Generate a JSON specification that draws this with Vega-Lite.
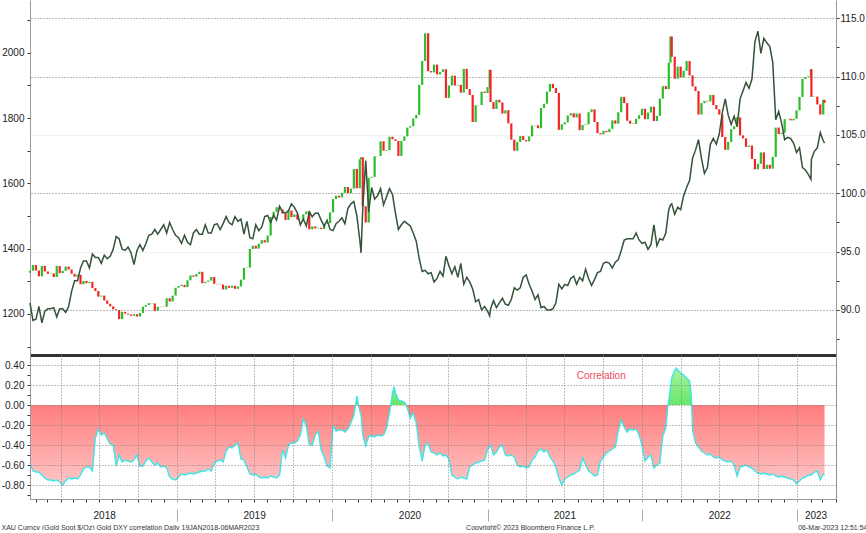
{
  "$schema": "https://vega.github.io/schema/vega-lite/v6.json",
  "background": "white",
  "padding": {"left": 1, "top": 0, "right": 0, "bottom": 0},
  "spacing": 0,
  "config": {
    "view": {"stroke": null},
    "axis": {
      "labelFont": "Liberation Sans",
      "labelFontSize": 10,
      "labelColor": "#222",
      "titleFont": "Liberation Sans",
      "titleFontWeight": "normal",
      "titleColor": "#333",
      "domainColor": "#999",
      "tickColor": "#333"
    }
  },
  "datasets": {
    "px": [
      {"d":"2018-01-19","o":1326,"c":1332,"dxy":90.6},
      {"d":"2018-01-26","o":1332,"c":1350,"dxy":89.1},
      {"d":"2018-02-02","o":1350,"c":1333,"dxy":89.2},
      {"d":"2018-02-09","o":1333,"c":1315,"dxy":90.3},
      {"d":"2018-02-16","o":1315,"c":1347,"dxy":88.9},
      {"d":"2018-02-23","o":1347,"c":1330,"dxy":89.9},
      {"d":"2018-03-02","o":1330,"c":1323,"dxy":90.1},
      {"d":"2018-03-09","o":1323,"c":1324,"dxy":90.1},
      {"d":"2018-03-16","o":1324,"c":1313,"dxy":90.2},
      {"d":"2018-03-23","o":1313,"c":1347,"dxy":89.4},
      {"d":"2018-03-30","o":1347,"c":1325,"dxy":90.1},
      {"d":"2018-04-06","o":1325,"c":1332,"dxy":90.1},
      {"d":"2018-04-13","o":1332,"c":1345,"dxy":89.8},
      {"d":"2018-04-20","o":1345,"c":1336,"dxy":90.3},
      {"d":"2018-04-27","o":1336,"c":1323,"dxy":91.6},
      {"d":"2018-05-04","o":1323,"c":1314,"dxy":92.5},
      {"d":"2018-05-11","o":1314,"c":1320,"dxy":92.5},
      {"d":"2018-05-18","o":1320,"c":1291,"dxy":93.6},
      {"d":"2018-05-25","o":1291,"c":1301,"dxy":94.2},
      {"d":"2018-06-01","o":1301,"c":1294,"dxy":94.2},
      {"d":"2018-06-08","o":1294,"c":1298,"dxy":93.6},
      {"d":"2018-06-15","o":1298,"c":1279,"dxy":94.8},
      {"d":"2018-06-22","o":1279,"c":1270,"dxy":94.5},
      {"d":"2018-06-29","o":1270,"c":1253,"dxy":94.5},
      {"d":"2018-07-06","o":1253,"c":1256,"dxy":94.0},
      {"d":"2018-07-13","o":1256,"c":1241,"dxy":94.7},
      {"d":"2018-07-20","o":1241,"c":1231,"dxy":94.4},
      {"d":"2018-07-27","o":1231,"c":1223,"dxy":94.6},
      {"d":"2018-08-03","o":1223,"c":1214,"dxy":95.2},
      {"d":"2018-08-10","o":1214,"c":1212,"dxy":96.3},
      {"d":"2018-08-17","o":1212,"c":1184,"dxy":96.1},
      {"d":"2018-08-24","o":1184,"c":1206,"dxy":95.2},
      {"d":"2018-08-31","o":1206,"c":1201,"dxy":95.1},
      {"d":"2018-09-07","o":1201,"c":1198,"dxy":95.4},
      {"d":"2018-09-14","o":1198,"c":1194,"dxy":94.9},
      {"d":"2018-09-21","o":1194,"c":1199,"dxy":93.9},
      {"d":"2018-09-28","o":1199,"c":1192,"dxy":95.1},
      {"d":"2018-10-05","o":1192,"c":1203,"dxy":95.6},
      {"d":"2018-10-12","o":1203,"c":1222,"dxy":95.1},
      {"d":"2018-10-19","o":1222,"c":1227,"dxy":95.7},
      {"d":"2018-10-26","o":1227,"c":1233,"dxy":96.4},
      {"d":"2018-11-02","o":1233,"c":1232,"dxy":96.5},
      {"d":"2018-11-09","o":1232,"c":1209,"dxy":96.9},
      {"d":"2018-11-16","o":1209,"c":1222,"dxy":96.5},
      {"d":"2018-11-23","o":1222,"c":1223,"dxy":96.9},
      {"d":"2018-11-30","o":1223,"c":1222,"dxy":97.3},
      {"d":"2018-12-07","o":1222,"c":1248,"dxy":96.6},
      {"d":"2018-12-14","o":1248,"c":1238,"dxy":97.5},
      {"d":"2018-12-21","o":1238,"c":1256,"dxy":96.9},
      {"d":"2018-12-28","o":1256,"c":1280,"dxy":96.4},
      {"d":"2019-01-04","o":1280,"c":1285,"dxy":96.2},
      {"d":"2019-01-11","o":1285,"c":1289,"dxy":95.7},
      {"d":"2019-01-18","o":1289,"c":1282,"dxy":96.4},
      {"d":"2019-01-25","o":1282,"c":1303,"dxy":95.8},
      {"d":"2019-02-01","o":1303,"c":1318,"dxy":95.6},
      {"d":"2019-02-08","o":1318,"c":1314,"dxy":96.6},
      {"d":"2019-02-15","o":1314,"c":1322,"dxy":96.9},
      {"d":"2019-02-22","o":1322,"c":1329,"dxy":96.5},
      {"d":"2019-03-01","o":1329,"c":1294,"dxy":96.5},
      {"d":"2019-03-08","o":1294,"c":1298,"dxy":97.3},
      {"d":"2019-03-15","o":1298,"c":1302,"dxy":96.6},
      {"d":"2019-03-22","o":1302,"c":1313,"dxy":96.6},
      {"d":"2019-03-29","o":1313,"c":1292,"dxy":97.3},
      {"d":"2019-04-05","o":1292,"c":1291,"dxy":97.4},
      {"d":"2019-04-12","o":1291,"c":1290,"dxy":96.9},
      {"d":"2019-04-19","o":1290,"c":1275,"dxy":97.4},
      {"d":"2019-04-26","o":1275,"c":1286,"dxy":98.0},
      {"d":"2019-05-03","o":1286,"c":1280,"dxy":97.5},
      {"d":"2019-05-10","o":1280,"c":1286,"dxy":97.3},
      {"d":"2019-05-17","o":1286,"c":1277,"dxy":98.0},
      {"d":"2019-05-24","o":1277,"c":1284,"dxy":97.6},
      {"d":"2019-05-31","o":1284,"c":1305,"dxy":97.8},
      {"d":"2019-06-07","o":1305,"c":1341,"dxy":96.5},
      {"d":"2019-06-14","o":1341,"c":1342,"dxy":97.6},
      {"d":"2019-06-21","o":1342,"c":1399,"dxy":96.2},
      {"d":"2019-06-28","o":1399,"c":1409,"dxy":96.1},
      {"d":"2019-07-05","o":1409,"c":1400,"dxy":97.3},
      {"d":"2019-07-12","o":1400,"c":1415,"dxy":96.8},
      {"d":"2019-07-19","o":1415,"c":1426,"dxy":97.1},
      {"d":"2019-07-26","o":1426,"c":1419,"dxy":98.0},
      {"d":"2019-08-02","o":1419,"c":1440,"dxy":98.1},
      {"d":"2019-08-09","o":1440,"c":1497,"dxy":97.5},
      {"d":"2019-08-16","o":1497,"c":1513,"dxy":98.1},
      {"d":"2019-08-23","o":1513,"c":1527,"dxy":97.7},
      {"d":"2019-08-30","o":1527,"c":1520,"dxy":98.9},
      {"d":"2019-09-06","o":1520,"c":1507,"dxy":98.4},
      {"d":"2019-09-13","o":1507,"c":1488,"dxy":98.3},
      {"d":"2019-09-20","o":1488,"c":1517,"dxy":98.5},
      {"d":"2019-09-27","o":1517,"c":1497,"dxy":99.1},
      {"d":"2019-10-04","o":1497,"c":1505,"dxy":98.8},
      {"d":"2019-10-11","o":1505,"c":1489,"dxy":98.3},
      {"d":"2019-10-18","o":1489,"c":1490,"dxy":97.3},
      {"d":"2019-10-25","o":1490,"c":1505,"dxy":97.8},
      {"d":"2019-11-01","o":1505,"c":1514,"dxy":97.2},
      {"d":"2019-11-08","o":1514,"c":1459,"dxy":98.4},
      {"d":"2019-11-15","o":1459,"c":1468,"dxy":98.0},
      {"d":"2019-11-22","o":1468,"c":1462,"dxy":98.3},
      {"d":"2019-11-29","o":1462,"c":1464,"dxy":98.3},
      {"d":"2019-12-06","o":1464,"c":1460,"dxy":97.7},
      {"d":"2019-12-13","o":1460,"c":1476,"dxy":97.2},
      {"d":"2019-12-20","o":1476,"c":1478,"dxy":97.7},
      {"d":"2019-12-27","o":1478,"c":1511,"dxy":96.9},
      {"d":"2020-01-03","o":1511,"c":1552,"dxy":96.8},
      {"d":"2020-01-10","o":1552,"c":1562,"dxy":97.4},
      {"d":"2020-01-17","o":1562,"c":1557,"dxy":97.6},
      {"d":"2020-01-24","o":1557,"c":1571,"dxy":97.9},
      {"d":"2020-01-31","o":1571,"c":1589,"dxy":97.4},
      {"d":"2020-02-07","o":1589,"c":1570,"dxy":98.7},
      {"d":"2020-02-14","o":1570,"c":1584,"dxy":99.1},
      {"d":"2020-02-21","o":1584,"c":1644,"dxy":99.3},
      {"d":"2020-02-28","o":1644,"c":1585,"dxy":98.1},
      {"d":"2020-03-06","o":1585,"c":1674,"dxy":96.0},
      {"d":"2020-03-09","o":1674,"c":1680,"dxy":94.9},
      {"d":"2020-03-13","o":1680,"c":1530,"dxy":98.7},
      {"d":"2020-03-20","o":1530,"c":1480,"dxy":102.8},
      {"d":"2020-03-27","o":1480,"c":1617,"dxy":98.4},
      {"d":"2020-04-03","o":1617,"c":1620,"dxy":100.5},
      {"d":"2020-04-10","o":1620,"c":1683,"dxy":99.5},
      {"d":"2020-04-17","o":1683,"c":1684,"dxy":99.8},
      {"d":"2020-04-24","o":1684,"c":1729,"dxy":100.4},
      {"d":"2020-05-01","o":1729,"c":1700,"dxy":99.0},
      {"d":"2020-05-08","o":1700,"c":1702,"dxy":99.7},
      {"d":"2020-05-15","o":1702,"c":1743,"dxy":100.4},
      {"d":"2020-05-22","o":1743,"c":1735,"dxy":99.9},
      {"d":"2020-05-29","o":1735,"c":1730,"dxy":98.3},
      {"d":"2020-06-05","o":1730,"c":1684,"dxy":96.9},
      {"d":"2020-06-12","o":1684,"c":1730,"dxy":97.3},
      {"d":"2020-06-19","o":1730,"c":1744,"dxy":97.6},
      {"d":"2020-06-26","o":1744,"c":1771,"dxy":97.4},
      {"d":"2020-07-03","o":1771,"c":1775,"dxy":97.2},
      {"d":"2020-07-10","o":1775,"c":1799,"dxy":96.6},
      {"d":"2020-07-17","o":1799,"c":1810,"dxy":95.9},
      {"d":"2020-07-24","o":1810,"c":1902,"dxy":94.4},
      {"d":"2020-07-31","o":1902,"c":1975,"dxy":93.3},
      {"d":"2020-08-07","o":1975,"c":2060,"dxy":93.4},
      {"d":"2020-08-14","o":2060,"c":1944,"dxy":93.1},
      {"d":"2020-08-21","o":1944,"c":1940,"dxy":93.2},
      {"d":"2020-08-28","o":1940,"c":1964,"dxy":92.4},
      {"d":"2020-09-04","o":1964,"c":1934,"dxy":92.7},
      {"d":"2020-09-11","o":1934,"c":1941,"dxy":93.3},
      {"d":"2020-09-18","o":1941,"c":1950,"dxy":92.9},
      {"d":"2020-09-25","o":1950,"c":1862,"dxy":94.6},
      {"d":"2020-10-02","o":1862,"c":1900,"dxy":93.8},
      {"d":"2020-10-09","o":1900,"c":1930,"dxy":93.1},
      {"d":"2020-10-16","o":1930,"c":1900,"dxy":93.7},
      {"d":"2020-10-23","o":1900,"c":1902,"dxy":92.8},
      {"d":"2020-10-30","o":1902,"c":1878,"dxy":94.0},
      {"d":"2020-11-06","o":1878,"c":1951,"dxy":92.2},
      {"d":"2020-11-13","o":1951,"c":1889,"dxy":92.8},
      {"d":"2020-11-20","o":1889,"c":1871,"dxy":92.4},
      {"d":"2020-11-27","o":1871,"c":1788,"dxy":91.8},
      {"d":"2020-12-04","o":1788,"c":1839,"dxy":90.7},
      {"d":"2020-12-11","o":1839,"c":1840,"dxy":90.9},
      {"d":"2020-12-18","o":1840,"c":1881,"dxy":90.0},
      {"d":"2020-12-25","o":1881,"c":1877,"dxy":90.3},
      {"d":"2021-01-01","o":1877,"c":1895,"dxy":89.9},
      {"d":"2021-01-06","o":1895,"c":1948,"dxy":89.5},
      {"d":"2021-01-08","o":1948,"c":1849,"dxy":90.1},
      {"d":"2021-01-15","o":1849,"c":1828,"dxy":90.8},
      {"d":"2021-01-22","o":1828,"c":1856,"dxy":90.2},
      {"d":"2021-01-29","o":1856,"c":1848,"dxy":90.6},
      {"d":"2021-02-05","o":1848,"c":1814,"dxy":91.0},
      {"d":"2021-02-12","o":1814,"c":1824,"dxy":90.5},
      {"d":"2021-02-19","o":1824,"c":1784,"dxy":90.4},
      {"d":"2021-02-26","o":1784,"c":1734,"dxy":90.9},
      {"d":"2021-03-05","o":1734,"c":1700,"dxy":91.9},
      {"d":"2021-03-12","o":1700,"c":1727,"dxy":91.7},
      {"d":"2021-03-19","o":1727,"c":1745,"dxy":91.9},
      {"d":"2021-03-26","o":1745,"c":1733,"dxy":92.8},
      {"d":"2021-04-02","o":1733,"c":1729,"dxy":93.0},
      {"d":"2021-04-09","o":1729,"c":1744,"dxy":92.2},
      {"d":"2021-04-16","o":1744,"c":1777,"dxy":91.6},
      {"d":"2021-04-23","o":1777,"c":1778,"dxy":90.9},
      {"d":"2021-04-30","o":1778,"c":1769,"dxy":91.3},
      {"d":"2021-05-07","o":1769,"c":1831,"dxy":90.2},
      {"d":"2021-05-14","o":1831,"c":1844,"dxy":90.3},
      {"d":"2021-05-21","o":1844,"c":1881,"dxy":90.0},
      {"d":"2021-05-28","o":1881,"c":1905,"dxy":90.0},
      {"d":"2021-06-04","o":1905,"c":1892,"dxy":90.1},
      {"d":"2021-06-11","o":1892,"c":1877,"dxy":90.6},
      {"d":"2021-06-18","o":1877,"c":1764,"dxy":92.2},
      {"d":"2021-06-25","o":1764,"c":1781,"dxy":91.8},
      {"d":"2021-07-02","o":1781,"c":1787,"dxy":92.2},
      {"d":"2021-07-09","o":1787,"c":1808,"dxy":92.1},
      {"d":"2021-07-16","o":1808,"c":1815,"dxy":92.7},
      {"d":"2021-07-23","o":1815,"c":1802,"dxy":92.9},
      {"d":"2021-07-30","o":1802,"c":1814,"dxy":92.2},
      {"d":"2021-08-06","o":1814,"c":1763,"dxy":92.8},
      {"d":"2021-08-13","o":1763,"c":1779,"dxy":92.5},
      {"d":"2021-08-20","o":1779,"c":1781,"dxy":93.5},
      {"d":"2021-08-27","o":1781,"c":1818,"dxy":92.7},
      {"d":"2021-09-03","o":1818,"c":1827,"dxy":92.1},
      {"d":"2021-09-10","o":1827,"c":1788,"dxy":92.6},
      {"d":"2021-09-17","o":1788,"c":1754,"dxy":93.2},
      {"d":"2021-09-24","o":1754,"c":1750,"dxy":93.3},
      {"d":"2021-10-01","o":1750,"c":1761,"dxy":94.0},
      {"d":"2021-10-08","o":1761,"c":1757,"dxy":94.1},
      {"d":"2021-10-15","o":1757,"c":1767,"dxy":94.0},
      {"d":"2021-10-22","o":1767,"c":1793,"dxy":93.6},
      {"d":"2021-10-29","o":1793,"c":1783,"dxy":94.1},
      {"d":"2021-11-05","o":1783,"c":1818,"dxy":94.3},
      {"d":"2021-11-12","o":1818,"c":1865,"dxy":95.1},
      {"d":"2021-11-19","o":1865,"c":1846,"dxy":96.0},
      {"d":"2021-11-26","o":1846,"c":1792,"dxy":96.1},
      {"d":"2021-12-03","o":1792,"c":1783,"dxy":96.1},
      {"d":"2021-12-10","o":1783,"c":1782,"dxy":96.1},
      {"d":"2021-12-17","o":1782,"c":1798,"dxy":96.6},
      {"d":"2021-12-24","o":1798,"c":1809,"dxy":96.0},
      {"d":"2021-12-31","o":1809,"c":1829,"dxy":95.7},
      {"d":"2022-01-07","o":1829,"c":1797,"dxy":95.8},
      {"d":"2022-01-14","o":1797,"c":1817,"dxy":95.2},
      {"d":"2022-01-21","o":1817,"c":1835,"dxy":95.6},
      {"d":"2022-01-28","o":1835,"c":1791,"dxy":97.3},
      {"d":"2022-02-04","o":1791,"c":1807,"dxy":95.5},
      {"d":"2022-02-11","o":1807,"c":1860,"dxy":96.1},
      {"d":"2022-02-18","o":1860,"c":1898,"dxy":96.0},
      {"d":"2022-02-25","o":1898,"c":1889,"dxy":96.6},
      {"d":"2022-03-04","o":1889,"c":1970,"dxy":98.6},
      {"d":"2022-03-08","o":1970,"c":2050,"dxy":99.0},
      {"d":"2022-03-11","o":2050,"c":1988,"dxy":99.1},
      {"d":"2022-03-18","o":1988,"c":1921,"dxy":98.2},
      {"d":"2022-03-25","o":1921,"c":1958,"dxy":98.8},
      {"d":"2022-04-01","o":1958,"c":1925,"dxy":98.6},
      {"d":"2022-04-08","o":1925,"c":1945,"dxy":99.8},
      {"d":"2022-04-15","o":1945,"c":1975,"dxy":100.5},
      {"d":"2022-04-22","o":1975,"c":1931,"dxy":101.1},
      {"d":"2022-04-29","o":1931,"c":1897,"dxy":103.0},
      {"d":"2022-05-06","o":1897,"c":1883,"dxy":103.7},
      {"d":"2022-05-13","o":1883,"c":1811,"dxy":104.6},
      {"d":"2022-05-20","o":1811,"c":1846,"dxy":103.0},
      {"d":"2022-05-27","o":1846,"c":1853,"dxy":101.7},
      {"d":"2022-06-03","o":1853,"c":1851,"dxy":102.2},
      {"d":"2022-06-10","o":1851,"c":1871,"dxy":104.2},
      {"d":"2022-06-17","o":1871,"c":1840,"dxy":104.7},
      {"d":"2022-06-24","o":1840,"c":1827,"dxy":104.2},
      {"d":"2022-07-01","o":1827,"c":1811,"dxy":105.1},
      {"d":"2022-07-08","o":1811,"c":1742,"dxy":106.9},
      {"d":"2022-07-15","o":1742,"c":1703,"dxy":108.1},
      {"d":"2022-07-22","o":1703,"c":1727,"dxy":106.7},
      {"d":"2022-07-29","o":1727,"c":1766,"dxy":105.9},
      {"d":"2022-08-05","o":1766,"c":1775,"dxy":106.6},
      {"d":"2022-08-12","o":1775,"c":1802,"dxy":105.7},
      {"d":"2022-08-19","o":1802,"c":1747,"dxy":108.1},
      {"d":"2022-08-26","o":1747,"c":1738,"dxy":108.8},
      {"d":"2022-09-02","o":1738,"c":1712,"dxy":109.5},
      {"d":"2022-09-09","o":1712,"c":1716,"dxy":109.0},
      {"d":"2022-09-16","o":1716,"c":1675,"dxy":109.8},
      {"d":"2022-09-23","o":1675,"c":1643,"dxy":113.0},
      {"d":"2022-09-30","o":1643,"c":1660,"dxy":113.9},
      {"d":"2022-10-07","o":1660,"c":1695,"dxy":112.0},
      {"d":"2022-10-14","o":1695,"c":1644,"dxy":113.3},
      {"d":"2022-10-21","o":1644,"c":1657,"dxy":112.9},
      {"d":"2022-10-28","o":1657,"c":1645,"dxy":112.6},
      {"d":"2022-11-04","o":1645,"c":1681,"dxy":111.2},
      {"d":"2022-11-11","o":1681,"c":1771,"dxy":106.3},
      {"d":"2022-11-18","o":1771,"c":1751,"dxy":107.0},
      {"d":"2022-11-25","o":1751,"c":1755,"dxy":106.0},
      {"d":"2022-12-02","o":1755,"c":1797,"dxy":104.6},
      {"d":"2022-12-09","o":1797,"c":1798,"dxy":104.8},
      {"d":"2022-12-16","o":1798,"c":1793,"dxy":104.7},
      {"d":"2022-12-23","o":1793,"c":1798,"dxy":104.3},
      {"d":"2022-12-30","o":1798,"c":1824,"dxy":103.5},
      {"d":"2023-01-06","o":1824,"c":1865,"dxy":103.9},
      {"d":"2023-01-13","o":1865,"c":1920,"dxy":102.2},
      {"d":"2023-01-20","o":1920,"c":1926,"dxy":102.0},
      {"d":"2023-01-27","o":1926,"c":1928,"dxy":101.6},
      {"d":"2023-02-02","o":1928,"c":1950,"dxy":101.2},
      {"d":"2023-02-03","o":1950,"c":1865,"dxy":102.9},
      {"d":"2023-02-10","o":1865,"c":1866,"dxy":103.6},
      {"d":"2023-02-17","o":1866,"c":1842,"dxy":103.9},
      {"d":"2023-02-24","o":1842,"c":1811,"dxy":105.2},
      {"d":"2023-03-03","o":1811,"c":1856,"dxy":104.5},
      {"d":"2023-03-06","o":1856,"c":1847,"dxy":104.3}
    ],
    "corr": [
      {"d":"2018-01-19","r":-0.58},{"d":"2018-01-26","r":-0.66},{"d":"2018-02-02","r":-0.67},{"d":"2018-02-09","r":-0.67},
      {"d":"2018-02-16","r":-0.70},{"d":"2018-02-23","r":-0.73},{"d":"2018-03-02","r":-0.75},{"d":"2018-03-09","r":-0.75},
      {"d":"2018-03-16","r":-0.76},{"d":"2018-03-23","r":-0.75},{"d":"2018-03-30","r":-0.77},{"d":"2018-04-06","r":-0.80},
      {"d":"2018-04-13","r":-0.76},{"d":"2018-04-20","r":-0.73},{"d":"2018-04-27","r":-0.74},{"d":"2018-05-04","r":-0.73},
      {"d":"2018-05-11","r":-0.74},{"d":"2018-05-18","r":-0.70},{"d":"2018-05-25","r":-0.64},{"d":"2018-06-01","r":-0.62},
      {"d":"2018-06-08","r":-0.62},{"d":"2018-06-15","r":-0.66},{"d":"2018-06-22","r":-0.33},{"d":"2018-06-29","r":-0.24},
      {"d":"2018-07-06","r":-0.30},{"d":"2018-07-13","r":-0.28},{"d":"2018-07-20","r":-0.34},{"d":"2018-07-27","r":-0.39},
      {"d":"2018-08-03","r":-0.40},{"d":"2018-08-10","r":-0.61},{"d":"2018-08-17","r":-0.50},{"d":"2018-08-24","r":-0.57},
      {"d":"2018-08-31","r":-0.55},{"d":"2018-09-07","r":-0.56},{"d":"2018-09-14","r":-0.57},{"d":"2018-09-21","r":-0.55},
      {"d":"2018-09-28","r":-0.50},{"d":"2018-10-05","r":-0.61},{"d":"2018-10-12","r":-0.61},{"d":"2018-10-19","r":-0.56},
      {"d":"2018-10-26","r":-0.53},{"d":"2018-11-02","r":-0.57},{"d":"2018-11-09","r":-0.60},{"d":"2018-11-16","r":-0.58},
      {"d":"2018-11-23","r":-0.62},{"d":"2018-11-30","r":-0.61},{"d":"2018-12-07","r":-0.63},{"d":"2018-12-14","r":-0.72},
      {"d":"2018-12-21","r":-0.74},{"d":"2018-12-28","r":-0.75},{"d":"2019-01-04","r":-0.72},{"d":"2019-01-11","r":-0.69},
      {"d":"2019-01-18","r":-0.70},{"d":"2019-01-25","r":-0.69},{"d":"2019-02-01","r":-0.68},{"d":"2019-02-08","r":-0.69},
      {"d":"2019-02-15","r":-0.68},{"d":"2019-02-22","r":-0.67},{"d":"2019-03-01","r":-0.66},{"d":"2019-03-08","r":-0.66},
      {"d":"2019-03-15","r":-0.64},{"d":"2019-03-22","r":-0.66},{"d":"2019-03-29","r":-0.58},{"d":"2019-04-05","r":-0.56},
      {"d":"2019-04-12","r":-0.55},{"d":"2019-04-19","r":-0.57},{"d":"2019-04-26","r":-0.46},{"d":"2019-05-03","r":-0.42},
      {"d":"2019-05-10","r":-0.43},{"d":"2019-05-17","r":-0.40},{"d":"2019-05-24","r":-0.38},{"d":"2019-05-31","r":-0.54},
      {"d":"2019-06-07","r":-0.55},{"d":"2019-06-14","r":-0.62},{"d":"2019-06-21","r":-0.69},{"d":"2019-06-28","r":-0.70},
      {"d":"2019-07-05","r":-0.69},{"d":"2019-07-12","r":-0.72},{"d":"2019-07-19","r":-0.73},{"d":"2019-07-26","r":-0.72},
      {"d":"2019-08-02","r":-0.73},{"d":"2019-08-09","r":-0.71},{"d":"2019-08-16","r":-0.72},{"d":"2019-08-23","r":-0.73},
      {"d":"2019-08-30","r":-0.70},{"d":"2019-09-06","r":-0.45},{"d":"2019-09-13","r":-0.53},{"d":"2019-09-20","r":-0.40},
      {"d":"2019-09-27","r":-0.38},{"d":"2019-10-04","r":-0.38},{"d":"2019-10-11","r":-0.36},{"d":"2019-10-18","r":-0.30},
      {"d":"2019-10-25","r":-0.14},{"d":"2019-11-01","r":-0.21},{"d":"2019-11-08","r":-0.40},{"d":"2019-11-15","r":-0.40},
      {"d":"2019-11-22","r":-0.30},{"d":"2019-11-29","r":-0.26},{"d":"2019-12-06","r":-0.45},{"d":"2019-12-13","r":-0.52},
      {"d":"2019-12-20","r":-0.61},{"d":"2019-12-27","r":-0.63},{"d":"2020-01-03","r":-0.21},{"d":"2020-01-10","r":-0.26},
      {"d":"2020-01-17","r":-0.25},{"d":"2020-01-24","r":-0.25},{"d":"2020-01-31","r":-0.27},{"d":"2020-02-07","r":-0.24},
      {"d":"2020-02-14","r":-0.18},{"d":"2020-02-21","r":-0.10},{"d":"2020-02-25","r":0},{"d":"2020-02-28","r":0.09},
      {"d":"2020-03-03","r":0},{"d":"2020-03-06","r":-0.06},{"d":"2020-03-09","r":-0.10},{"d":"2020-03-13","r":-0.30},
      {"d":"2020-03-20","r":-0.41},{"d":"2020-03-27","r":-0.31},{"d":"2020-04-03","r":-0.31},{"d":"2020-04-10","r":-0.32},
      {"d":"2020-04-17","r":-0.30},{"d":"2020-04-24","r":-0.31},{"d":"2020-05-01","r":-0.30},{"d":"2020-05-08","r":-0.23},
      {"d":"2020-05-15","r":-0.08},{"d":"2020-05-18","r":0},{"d":"2020-05-22","r":0.12},{"d":"2020-05-26","r":0.18},
      {"d":"2020-05-29","r":0.12},{"d":"2020-06-05","r":0.05},{"d":"2020-06-12","r":0.04},{"d":"2020-06-19","r":0.03},
      {"d":"2020-06-23","r":0},{"d":"2020-06-26","r":-0.03},{"d":"2020-07-03","r":-0.13},{"d":"2020-07-10","r":-0.08},
      {"d":"2020-07-17","r":-0.18},{"d":"2020-07-24","r":-0.41},{"d":"2020-07-31","r":-0.56},{"d":"2020-08-07","r":-0.40},
      {"d":"2020-08-14","r":-0.38},{"d":"2020-08-21","r":-0.47},{"d":"2020-08-28","r":-0.48},{"d":"2020-09-04","r":-0.50},
      {"d":"2020-09-11","r":-0.48},{"d":"2020-09-18","r":-0.51},{"d":"2020-09-25","r":-0.50},{"d":"2020-10-02","r":-0.54},
      {"d":"2020-10-09","r":-0.70},{"d":"2020-10-16","r":-0.72},{"d":"2020-10-23","r":-0.74},{"d":"2020-10-30","r":-0.72},
      {"d":"2020-11-06","r":-0.73},{"d":"2020-11-13","r":-0.74},{"d":"2020-11-20","r":-0.62},{"d":"2020-11-27","r":-0.60},
      {"d":"2020-12-04","r":-0.58},{"d":"2020-12-11","r":-0.57},{"d":"2020-12-18","r":-0.56},{"d":"2020-12-25","r":-0.55},
      {"d":"2021-01-01","r":-0.45},{"d":"2021-01-08","r":-0.40},{"d":"2021-01-15","r":-0.50},{"d":"2021-01-22","r":-0.47},
      {"d":"2021-01-29","r":-0.42},{"d":"2021-02-05","r":-0.40},{"d":"2021-02-12","r":-0.50},{"d":"2021-02-19","r":-0.51},
      {"d":"2021-02-26","r":-0.50},{"d":"2021-03-05","r":-0.52},{"d":"2021-03-12","r":-0.60},{"d":"2021-03-19","r":-0.62},
      {"d":"2021-03-26","r":-0.61},{"d":"2021-04-02","r":-0.63},{"d":"2021-04-09","r":-0.62},{"d":"2021-04-16","r":-0.55},
      {"d":"2021-04-23","r":-0.52},{"d":"2021-04-30","r":-0.46},{"d":"2021-05-07","r":-0.44},{"d":"2021-05-14","r":-0.47},
      {"d":"2021-05-21","r":-0.45},{"d":"2021-05-28","r":-0.52},{"d":"2021-06-04","r":-0.56},{"d":"2021-06-11","r":-0.62},
      {"d":"2021-06-18","r":-0.73},{"d":"2021-06-25","r":-0.80},{"d":"2021-07-02","r":-0.74},{"d":"2021-07-09","r":-0.72},
      {"d":"2021-07-16","r":-0.70},{"d":"2021-07-23","r":-0.69},{"d":"2021-07-30","r":-0.67},{"d":"2021-08-06","r":-0.65},
      {"d":"2021-08-13","r":-0.53},{"d":"2021-08-20","r":-0.60},{"d":"2021-08-27","r":-0.66},{"d":"2021-09-03","r":-0.68},
      {"d":"2021-09-10","r":-0.71},{"d":"2021-09-17","r":-0.70},{"d":"2021-09-24","r":-0.56},{"d":"2021-10-01","r":-0.52},
      {"d":"2021-10-08","r":-0.48},{"d":"2021-10-15","r":-0.46},{"d":"2021-10-22","r":-0.44},{"d":"2021-10-29","r":-0.42},
      {"d":"2021-11-05","r":-0.26},{"d":"2021-11-12","r":-0.15},{"d":"2021-11-19","r":-0.22},{"d":"2021-11-26","r":-0.27},
      {"d":"2021-12-03","r":-0.24},{"d":"2021-12-10","r":-0.25},{"d":"2021-12-17","r":-0.24},{"d":"2021-12-24","r":-0.30},
      {"d":"2021-12-31","r":-0.40},{"d":"2022-01-07","r":-0.56},{"d":"2022-01-14","r":-0.52},{"d":"2022-01-21","r":-0.50},
      {"d":"2022-01-28","r":-0.63},{"d":"2022-02-04","r":-0.60},{"d":"2022-02-11","r":-0.58},{"d":"2022-02-18","r":-0.31},
      {"d":"2022-02-25","r":-0.23},{"d":"2022-03-02","r":0},{"d":"2022-03-04","r":0.04},{"d":"2022-03-11","r":0.27},
      {"d":"2022-03-18","r":0.35},{"d":"2022-03-22","r":0.37},{"d":"2022-03-25","r":0.35},{"d":"2022-04-01","r":0.32},
      {"d":"2022-04-08","r":0.30},{"d":"2022-04-15","r":0.27},{"d":"2022-04-22","r":0.24},{"d":"2022-04-26","r":0.10},
      {"d":"2022-04-27","r":0},{"d":"2022-04-29","r":-0.25},{"d":"2022-05-06","r":-0.38},{"d":"2022-05-13","r":-0.42},
      {"d":"2022-05-20","r":-0.46},{"d":"2022-05-27","r":-0.48},{"d":"2022-06-03","r":-0.50},{"d":"2022-06-10","r":-0.49},
      {"d":"2022-06-17","r":-0.52},{"d":"2022-06-24","r":-0.53},{"d":"2022-07-01","r":-0.52},{"d":"2022-07-08","r":-0.55},
      {"d":"2022-07-15","r":-0.56},{"d":"2022-07-22","r":-0.57},{"d":"2022-07-29","r":-0.56},{"d":"2022-08-05","r":-0.60},
      {"d":"2022-08-12","r":-0.71},{"d":"2022-08-19","r":-0.62},{"d":"2022-08-26","r":-0.61},{"d":"2022-09-02","r":-0.60},
      {"d":"2022-09-09","r":-0.62},{"d":"2022-09-16","r":-0.63},{"d":"2022-09-23","r":-0.66},{"d":"2022-09-30","r":-0.68},
      {"d":"2022-10-07","r":-0.69},{"d":"2022-10-14","r":-0.68},{"d":"2022-10-21","r":-0.69},{"d":"2022-10-28","r":-0.70},
      {"d":"2022-11-04","r":-0.69},{"d":"2022-11-11","r":-0.71},{"d":"2022-11-18","r":-0.72},{"d":"2022-11-25","r":-0.71},
      {"d":"2022-12-02","r":-0.72},{"d":"2022-12-09","r":-0.73},{"d":"2022-12-16","r":-0.74},{"d":"2022-12-23","r":-0.75},
      {"d":"2022-12-30","r":-0.79},{"d":"2023-01-06","r":-0.76},{"d":"2023-01-13","r":-0.73},{"d":"2023-01-20","r":-0.72},
      {"d":"2023-01-27","r":-0.70},{"d":"2023-02-03","r":-0.70},{"d":"2023-02-10","r":-0.67},{"d":"2023-02-17","r":-0.66},
      {"d":"2023-02-24","r":-0.75},{"d":"2023-03-03","r":-0.69},{"d":"2023-03-06","r":-0.70}
    ]
  },
  "vconcat": [
    {
      "width": 806,
      "height": 355,
      "data": {"name": "px"},
      "encoding": {
        "x": {
          "field": "d",
          "type": "temporal",
          "scale": {"domain": [{"year": 2018, "month": 1, "date": 19}, {"year": 2023, "month": 4, "date": 2}]},
          "axis": {"title": null, "labels": false, "ticks": false, "grid": false, "domainColor": "#333", "domainWidth": 3}
        }
      },
      "layer": [
        {
          "mark": {"type": "rule", "strokeWidth": 2.2},
          "encoding": {
            "y": {
              "field": "o",
              "type": "quantitative",
              "scale": {"domain": [1074, 2162], "nice": false, "zero": false},
              "axis": {
                "orient": "left",
                "title": null,
                "values": [1100, 1200, 1300, 1400, 1500, 1600, 1700, 1800, 1900, 2000, 2100],
                "labelExpr": "datum.value % 200 == 0 ? format(datum.value, 'd') : ''",
                "grid": false,
                "tickSize": 3,
                "labelPadding": 3
              }
            },
            "y2": {"field": "c"},
            "color": {"condition": {"test": "datum.c >= datum.o", "value": "#2cbc2c"}, "value": "#f22424"}
          }
        },
        {
          "mark": {"type": "line", "color": "#34533a", "strokeWidth": 1.5},
          "encoding": {
            "y": {
              "field": "dxy",
              "type": "quantitative",
              "scale": {"domain": [86.14, 116.57], "nice": false, "zero": false},
              "axis": {
                "orient": "right",
                "title": null,
                "values": [87.5, 90, 92.5, 95, 97.5, 100, 102.5, 105, 107.5, 110, 112.5, 115],
                "labelExpr": "datum.value % 5 == 0 ? format(datum.value, '.1f') : ''",
                "grid": true,
                "gridDash": [1, 2],
                "gridColor": {"condition": {"test": "datum.value == 95 || datum.value == 105", "value": "#d4d4d4"}, "value": "#707070"},
                "gridOpacity": {"condition": {"test": "datum.value % 5 != 0", "value": 0}, "value": 1},
                "tickSize": 3,
                "labelPadding": 1
              }
            }
          }
        }
      ],
      "resolve": {"scale": {"y": "independent"}}
    },
    {
      "width": 806,
      "height": 144,
      "data": {"name": "corr"},
      "encoding": {
        "x": {
          "field": "d",
          "type": "temporal",
          "scale": {"domain": [{"year": 2018, "month": 1, "date": 19}, {"year": 2023, "month": 4, "date": 2}]},
          "axis": {
            "tickCount": {"interval": "month", "step": 1},
            "labelExpr": "(month(datum.value) == 6 && year(datum.value) < 2023) || (month(datum.value) == 1 && year(datum.value) == 2023) ? timeFormat(datum.value, '%Y') : ''",
            "labelOffset": {"condition": {"test": "year(datum.value) == 2018 || year(datum.value) == 2023", "value": 5}, "value": 0},
            "labelFlush": false,
            "labelOverlap": false,
            "labelPadding": -11,
            "grid": true,
            "gridDash": [1, 2],
            "gridColor": "#808080",
            "gridOpacity": {"condition": {"test": "month(datum.value) % 3 != 0", "value": 0}, "value": 1},
            "tickSize": 22,
            "tickDash": {"condition": {"test": "month(datum.value) == 0", "value": [3, 7, 12, 30]}, "value": [3, 30]},
            "tickColor": {"condition": {"test": "month(datum.value) == 0", "value": "#aaaaaa"}, "value": "#333333"},
            "zindex": 1,
            "title": "Copyright\u00a9 2023 Bloomberg Finance L.P.",
            "titleFontSize": 7,
            "titleX": 500,
            "titleY": 24,
            "titleBaseline": "top"
          }
        }
      },
      "layer": [
        {
          "mark": {
            "type": "area",
            "color": {
              "gradient": "linear", "x1": 0, "y1": 0, "x2": 0, "y2": 1,
              "stops": [
                {"offset": 0, "color": "#ff7d7d"},
                {"offset": 0.316, "color": "#ff7d7d"},
                {"offset": 1, "color": "#ffc6c6"}
              ]
            }
          },
          "encoding": {
            "y": {
              "field": "r",
              "type": "quantitative",
              "scale": {"domain": [-0.94, 0.5], "nice": false, "zero": false},
              "axis": {
                "values": [-0.9, -0.8, -0.7, -0.6, -0.5, -0.4, -0.3, -0.2, -0.1, 0, 0.1, 0.2, 0.3, 0.4],
                "labelExpr": "abs(round(datum.value * 10)) % 2 == 0 ? (datum.value < 0 ? '-' : '') + format(abs(datum.value), '.2f') : ''",
                "grid": true,
                "gridDash": [1, 2],
                "gridColor": "#808080",
                "gridOpacity": {"condition": {"test": "abs(round(datum.value * 10)) % 2 == 1", "value": 0}, "value": 1},
                "tickSize": 3,
                "labelPadding": 3,
                "zindex": 1,
                "title": "XAU Curncy (Gold Spot  $/Oz) Gold DXY correlation  Daily 19JAN2018-06MAR2023",
                "titleAngle": 0,
                "titleAlign": "left",
                "titleBaseline": "top",
                "titleX": -29,
                "titleY": 168,
                "titleFontSize": 7
              }
            },
            "y2": {"datum": 0}
          }
        },
        {
          "transform": [{"filter": "datum.r >= 0"}],
          "mark": {
            "type": "area",
            "color": {
              "gradient": "linear", "x1": 0, "y1": 0, "x2": 0, "y2": 1,
              "stops": [
                {"offset": 0, "color": "#a8f4a0"},
                {"offset": 1, "color": "#66e866"}
              ]
            }
          },
          "encoding": {
            "y": {"field": "r", "type": "quantitative", "axis": null},
            "y2": {"datum": 0}
          }
        },
        {
          "mark": {"type": "line", "color": "#3ee6e6", "strokeWidth": 1.4},
          "encoding": {
            "y": {
              "field": "r",
              "type": "quantitative",
              "axis": {
                "orient": "right",
                "labels": false,
                "ticks": false,
                "grid": false,
                "title": "06-Mar-2023 12:51:54",
                "titleAngle": 0,
                "titleAlign": "right",
                "titleBaseline": "top",
                "titleX": 31,
                "titleY": 168,
                "titleFontSize": 7
              }
            }
          }
        },
        {
          "transform": [{"filter": "datum.r == 0.09"}],
          "mark": {"type": "text", "color": "#ee4a5a", "font": "Liberation Sans", "fontSize": 10, "align": "center", "baseline": "middle"},
          "encoding": {
            "x": {"datum": {"year": 2021, "month": 9, "date": 26}, "type": "temporal"},
            "y": {"datum": 0.29, "type": "quantitative", "axis": null},
            "text": {"value": "Correlation"}
          }
        }
      ],
      "resolve": {"axis": {"y": "independent"}}
    }
  ]
}
